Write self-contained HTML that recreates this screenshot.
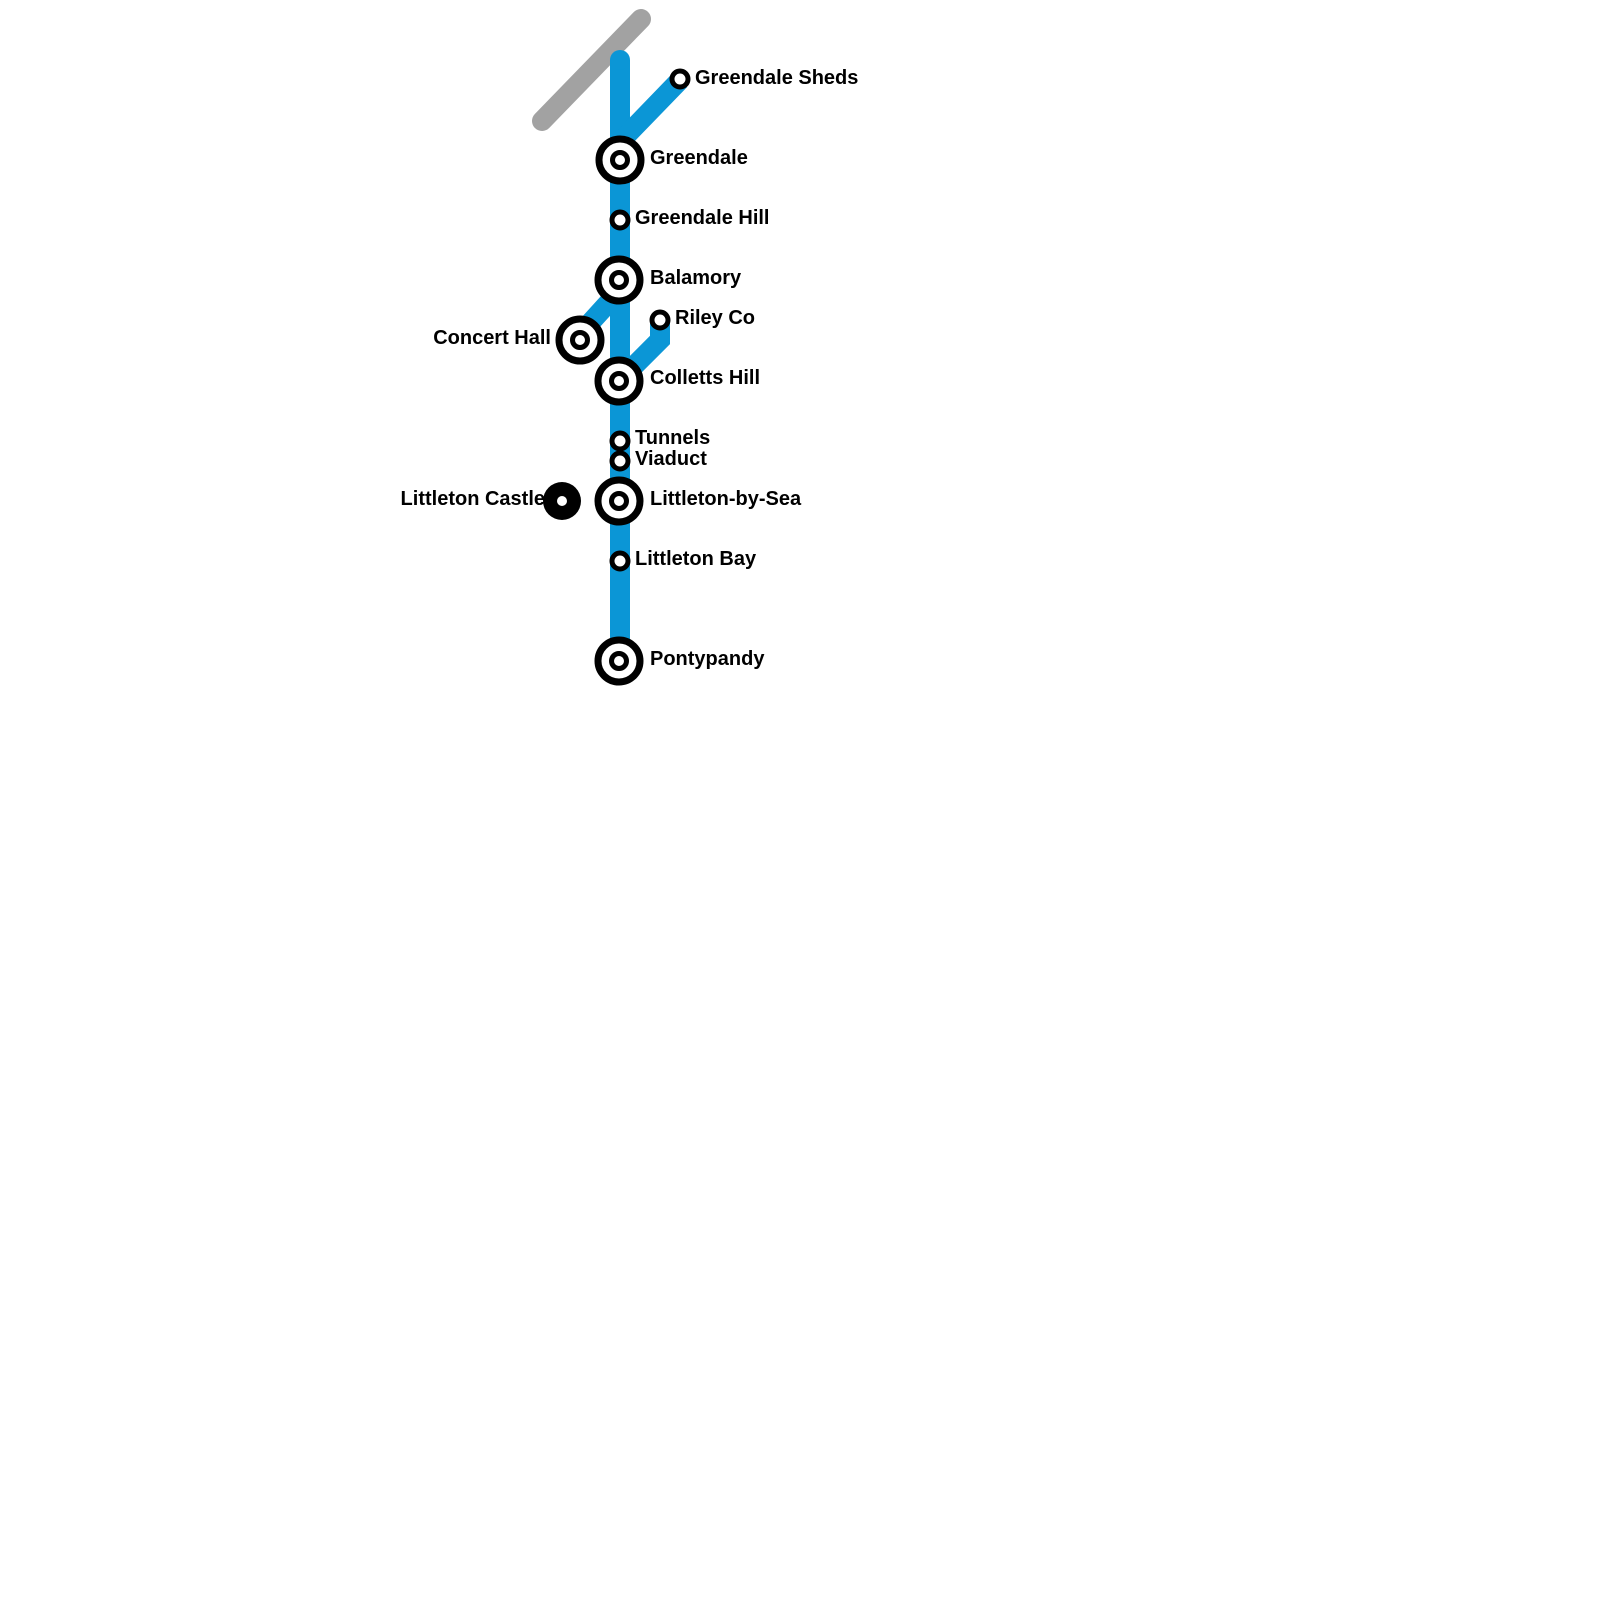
<!DOCTYPE html>
<html><head><style>
body{margin:0;background:#fff;}
svg{display:block;}
text{font-family:"Liberation Sans",Arial,sans-serif;font-weight:bold;font-size:20px;fill:#000;dominant-baseline:central;}
</style></head><body>
<svg width="1600" height="1600" viewBox="0 0 1600 1600" xmlns="http://www.w3.org/2000/svg">
<line x1="542" y1="121" x2="641" y2="19" stroke="#a2a2a2" stroke-width="20" stroke-linecap="round"/>
<g stroke="#0b96d6" stroke-width="20" fill="none" stroke-linejoin="miter">
<line x1="620" y1="60" x2="620" y2="640" stroke-linecap="butt"/>
<circle cx="620" cy="60" r="10" fill="#0b96d6" stroke="none"/>
<polyline points="680,80 620,142"/>
<polyline points="620,290 580,334"/>
<polyline points="660,320 660,340 620,380"/>
</g>
<g fill="#fff" stroke="#000">
<g stroke-width="7">
<circle cx="620" cy="160" r="21"/>
<circle cx="619" cy="280" r="21"/>
<circle cx="580" cy="340" r="21"/>
<circle cx="619" cy="381" r="21"/>
<circle cx="619" cy="501" r="21"/>
<circle cx="619" cy="661" r="21"/>
</g>
<g stroke-width="5">
<circle cx="620" cy="160" r="7.5"/>
<circle cx="619" cy="280" r="7.5"/>
<circle cx="580" cy="340" r="7.5"/>
<circle cx="619" cy="381" r="7.5"/>
<circle cx="619" cy="501" r="7.5"/>
<circle cx="619" cy="661" r="7.5"/>
<circle cx="680" cy="79" r="8"/>
<circle cx="620" cy="220" r="8"/>
<circle cx="660" cy="320" r="8"/>
<circle cx="620" cy="441" r="8"/>
<circle cx="620" cy="461" r="8"/>
<circle cx="620" cy="561" r="8"/>
</g>
</g>
<circle cx="562" cy="501" r="19" fill="#000"/>
<circle cx="562" cy="501" r="5" fill="#fff"/>
<text x="695" y="78">Greendale Sheds</text>
<text x="650" y="158">Greendale</text>
<text x="635" y="218">Greendale Hill</text>
<text x="650" y="278">Balamory</text>
<text x="551" y="338" text-anchor="end">Concert Hall</text>
<text x="675" y="318">Riley Co</text>
<text x="650" y="378">Colletts Hill</text>
<text x="635" y="438">Tunnels</text>
<text x="635" y="459">Viaduct</text>
<text x="650" y="499">Littleton-by-Sea</text>
<text x="545" y="499" text-anchor="end">Littleton Castle</text>
<text x="635" y="559">Littleton Bay</text>
<text x="650" y="659">Pontypandy</text>
</svg>
</body></html>
